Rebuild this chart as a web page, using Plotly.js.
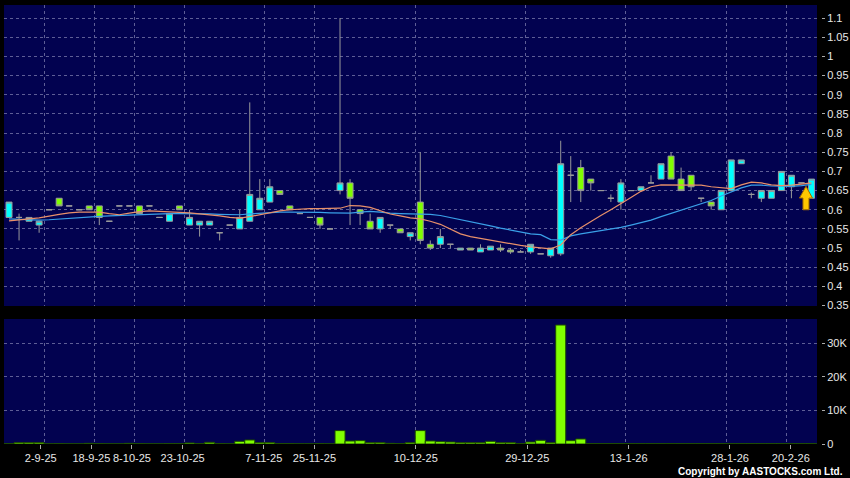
<!DOCTYPE html>
<html><head><meta charset="utf-8">
<script src="https://cdn.plot.ly/plotly-3.0.1.min.js"></script>
<style>html,body{margin:0;padding:0;background:#000;}#chart{width:850px;height:478px;}</style>
</head><body><div id="chart"></div>
<script>
const dates = ['2025-08-27','2025-08-28','2025-08-29','2025-09-02','2025-09-04','2025-09-08','2025-09-10','2025-09-15','2025-09-18','2025-09-23',
'2025-09-26','2025-10-03','2025-10-08','2025-10-10','2025-10-14','2025-10-16','2025-10-20','2025-10-23','2025-10-24','2025-10-27',
'2025-10-28','2025-10-30','2025-10-31','2025-11-03','2025-11-05','2025-11-07','2025-11-10','2025-11-12','2025-11-17','2025-11-20',
'2025-11-25','2025-11-26','2025-11-27','2025-11-28','2025-12-01','2025-12-02','2025-12-03','2025-12-04','2025-12-05','2025-12-08',
'2025-12-10','2025-12-11','2025-12-12','2025-12-15','2025-12-16','2025-12-17','2025-12-18','2025-12-19','2025-12-22','2025-12-23',
'2025-12-24','2025-12-29','2025-12-30','2025-12-31','2026-01-02','2026-01-05','2026-01-06','2026-01-07','2026-01-08','2026-01-09',
'2026-01-12','2026-01-13','2026-01-14','2026-01-15','2026-01-16','2026-01-19','2026-01-20','2026-01-21','2026-01-22','2026-01-23',
'2026-01-26','2026-01-28','2026-01-30','2026-02-02','2026-02-05','2026-02-10','2026-02-13','2026-02-20','2026-02-23','2026-02-24',
'2026-02-25'];
const open  = [0.58,0.58,0.57,0.56,0.60,0.63,0.61,0.60,0.61,0.61, 0.57,0.61,0.61,0.61,0.61,0.58,0.57,0.61,0.56,0.56,
0.56,0.54,0.56,0.55,0.57,0.60,0.62,0.65,0.61,0.59, 0.58,0.58,0.55,0.65,0.67,0.60,0.57,0.55,0.56,0.55,
0.53,0.62,0.51,0.51,0.51,0.495,0.50,0.49,0.495,0.50, 0.495,0.49,0.49,0.485,0.48,0.485,0.69,0.71,0.68,0.65,
0.63,0.62,0.65,0.65,0.67,0.68,0.74,0.68,0.69,0.63, 0.62,0.60,0.65,0.72,0.64,0.63,0.63,0.65,0.66,0.67, 0.63];
const high  = [0.62,0.59,0.58,0.57,0.60,0.63,0.61,0.60,0.61,0.61, 0.57,0.61,0.61,0.61,0.61,0.58,0.59,0.61,0.60,0.57,
0.57,0.54,0.56,0.60,0.88,0.68,0.68,0.65,0.61,0.59, 0.58,0.58,0.55,1.10,0.68,0.60,0.59,0.58,0.56,0.55,
0.54,0.75,0.52,0.55,0.51,0.50,0.50,0.51,0.505,0.51, 0.50,0.495,0.51,0.485,0.50,0.78,0.74,0.73,0.68,0.65,
0.64,0.68,0.65,0.66,0.69,0.72,0.75,0.71,0.69,0.63, 0.62,0.65,0.73,0.73,0.645,0.65,0.65,0.70,0.69,0.67, 0.68];
const low   = [0.58,0.52,0.57,0.54,0.60,0.61,0.61,0.60,0.60,0.56, 0.57,0.61,0.61,0.59,0.61,0.58,0.57,0.60,0.56,0.53,
0.56,0.52,0.56,0.55,0.57,0.60,0.62,0.64,0.60,0.59, 0.58,0.55,0.55,0.64,0.56,0.56,0.55,0.54,0.55,0.54,
0.52,0.51,0.495,0.50,0.50,0.495,0.495,0.49,0.495,0.49, 0.485,0.49,0.485,0.485,0.475,0.48,0.62,0.62,0.65,0.65,
0.62,0.60,0.65,0.65,0.67,0.68,0.68,0.65,0.65,0.62, 0.60,0.60,0.65,0.72,0.63,0.62,0.63,0.65,0.63,0.67, 0.63];
const close = [0.62,0.58,0.58,0.57,0.60,0.61,0.61,0.60,0.60,0.58, 0.57,0.61,0.61,0.59,0.61,0.58,0.59,0.60,0.58,0.57,
0.57,0.54,0.56,0.58,0.64,0.63,0.66,0.64,0.60,0.59, 0.58,0.56,0.55,0.67,0.63,0.59,0.55,0.58,0.56,0.54,
0.54,0.52,0.50,0.53,0.51,0.50,0.495,0.50,0.505,0.495, 0.49,0.49,0.51,0.485,0.50,0.72,0.69,0.65,0.67,0.65,
0.63,0.67,0.65,0.66,0.67,0.72,0.68,0.65,0.66,0.63, 0.61,0.65,0.73,0.73,0.64,0.65,0.65,0.70,0.69,0.67, 0.68];
const ma10 = [0.571,0.573,0.576,0.579,0.584,0.588,0.592,0.594,0.594,0.594, 0.590,0.587,0.591,0.595,0.597,0.596,0.595,0.594,0.592,0.589,
0.587,0.584,0.580,0.578,0.582,0.587,0.592,0.597,0.600,0.602, 0.603,0.603,0.603,0.604,0.611,0.610,0.606,0.597,0.589,0.584,
0.579,0.576,0.570,0.562,0.550,0.537,0.530,0.525,0.520,0.515, 0.511,0.507,0.503,0.500,0.498,0.508,0.535,0.553,0.570,0.585,
0.600,0.617,0.632,0.648,0.660,0.665,0.665,0.665,0.665,0.664, 0.660,0.657,0.655,0.665,0.672,0.670,0.665,0.663,0.664,0.667, 0.670];
const ma20 = [0.576,0.575,0.574,0.573,0.574,0.576,0.578,0.580,0.581,0.583, 0.584,0.585,0.586,0.587,0.589,0.589,0.590,0.590,0.590,0.589,
0.589,0.588,0.587,0.587,0.589,0.591,0.593,0.594,0.594,0.594, 0.594,0.593,0.592,0.591,0.591,0.594,0.596,0.594,0.591,0.590,
0.589,0.589,0.588,0.585,0.580,0.575,0.570,0.565,0.558,0.552, 0.547,0.541,0.537,0.535,0.522,0.521,0.532,0.537,0.541,0.546,
0.550,0.554,0.560,0.566,0.573,0.582,0.590,0.598,0.608,0.616, 0.624,0.636,0.646,0.657,0.664,0.664,0.662,0.661,0.661,0.663, 0.666];
const volume = [100,400,400,400,50,100,50,50,200,100, 50,50,200,100,50,50,100,100,300,100,
500,100,50,800,1200,400,400,100,100,50, 50,100,50,4000,900,1000,400,400,200,100,
400,4000,900,700,600,400,400,400,800,400, 400,100,600,1100,400,35500,1000,1500,100,100,
100,100,100,100,100,100,150,100,100,100, 100,100,100,100,100,100,100,100,100,100, 100];
const tickDates = ['2025-09-02','2025-09-18','2025-10-08','2025-10-23','2025-11-07','2025-11-25','2025-12-10','2025-12-29','2026-01-13','2026-01-28','2026-02-20'];
const priceTicks = [0.35,0.4,0.45,0.5,0.55,0.6,0.65,0.7,0.75,0.8,0.85,0.9,0.95,1,1.05,1.1];
const volTicks = [0,10000,20000,30000];
const volTickText = ['0','10K','20K','30K'];
const arrowMark = {tip:0.661, neck:0.6305, base:0.60};

const idx = dates.map((d,i)=>i);
const tickIdx = tickDates.map(d=>dates.indexOf(d));
const gridPos = tickIdx.map(i=>i+0.5);
const labelPos = tickIdx.map(i=>i+0.16+(i-3)*0.0105);
const fmtDate = d => { const p=d.split('-'); return (+p[2])+'-'+(+p[1])+'-'+p[0].slice(2); };
const labelText = tickDates.map(fmtDate);

const BG='#020250', GRID='#5e5e96', TXT='#e8e8e8', FONT='Liberation Sans, Arial, sans-serif';
const xr=[-0.5, 80.55];
const gridAxis = {range:xr, showgrid:true, gridcolor:GRID, griddash:'3px,3px', gridwidth:1, zeroline:false,
  showline:false, tickmode:'array', tickvals:gridPos, showticklabels:false, ticks:''};

const traces = [
 {type:'candlestick', x:idx, open:open, high:high, low:low, close:close, xaxis:'x', yaxis:'y',
  increasing:{fillcolor:'#00ffff', line:{color:'#9a9a9a', width:1}},
  decreasing:{fillcolor:'#80ff00', line:{color:'#9a9a9a', width:1}},
  whiskerwidth:0, showlegend:false, hoverinfo:'skip'},
 {type:'scatter', mode:'lines', x:idx, y:ma20, xaxis:'x', yaxis:'y', line:{color:'#3aa0e8', width:1.2}, showlegend:false, hoverinfo:'skip'},
 {type:'scatter', mode:'lines', x:idx, y:ma10, xaxis:'x', yaxis:'y', line:{color:'#e8906a', width:1.2}, showlegend:false, hoverinfo:'skip'},
 {type:'bar', x:idx, y:volume, xaxis:'x2', yaxis:'y2', marker:{color:'#80ff00', line:{color:'#1c4a00', width:1}}, showlegend:false, hoverinfo:'skip'},
 {type:'scatter', mode:'markers', x:[null], y:[null], xaxis:'x3', yaxis:'y2', showlegend:false, hoverinfo:'skip'}
];

const last = idx[idx.length-1];
const cx = last-0.55, hw=0.65, sw=0.3;
const arrowPath = `M ${cx},${arrowMark.tip} L ${cx+hw},${arrowMark.neck} L ${cx+sw},${arrowMark.neck} L ${cx+sw},${arrowMark.base} L ${cx-sw},${arrowMark.base} L ${cx-sw},${arrowMark.neck} L ${cx-hw},${arrowMark.neck} Z`;

const L=4, R=821, T=5, B=444;
const dom=[0,(817-L)/(R-L)];
const layout = {
 width:850, height:478, paper_bgcolor:'#000000', plot_bgcolor:BG,
 margin:{l:L, r:850-R, t:T, b:478-B, pad:0},
 font:{family:FONT, size:11, color:TXT},
 showlegend:false, bargap:0, dragmode:false,
 boxgap:0.15,
 xaxis: Object.assign({}, gridAxis, {domain:dom, anchor:'y', rangeslider:{visible:false}}),
 xaxis2: Object.assign({}, gridAxis, {domain:dom, anchor:'y2'}),
 xaxis3: {domain:dom, anchor:'y2', overlaying:'x2', range:xr, showgrid:false, zeroline:false, showline:false,
   tickmode:'array', tickvals:labelPos, ticktext:labelText, ticks:'outside', ticklen:4, tickcolor:'#aaaaaa', tickangle:0,
   tickfont:{family:FONT, size:11, color:TXT}},
 yaxis: {domain:[(B-306)/(B-T),1], anchor:'free', position:1, side:'right', range:[0.349,1.134],
   tickmode:'array', tickvals:priceTicks, ticktext:priceTicks.map(v=>String(+v.toFixed(2))),
   showgrid:true, gridcolor:GRID, griddash:'3px,3px', zeroline:false, showline:false,
   ticks:'outside', ticklen:3, tickcolor:'#aaaaaa', tickfont:{family:FONT, size:11, color:TXT}},
 yaxis2: {domain:[0,(B-319)/(B-T)], anchor:'free', position:1, side:'right', range:[0,37300],
   tickmode:'array', tickvals:volTicks, ticktext:volTickText,
   showgrid:true, gridcolor:GRID, griddash:'3px,3px', zeroline:false, showline:false,
   ticks:'outside', ticklen:3, tickcolor:'#aaaaaa', tickfont:{family:FONT, size:11, color:TXT}},
 shapes:[{type:'path', xref:'x', yref:'y', path:arrowPath, fillcolor:'#ffc800', line:{color:'#a06a00', width:1}, layer:'above'}],
 annotations:[{text:'<b>Copyright by AASTOCKS.com Ltd.</b>', xref:'paper', yref:'paper', x:(845-L)/(R-L), y:(B-471)/(B-T),
   xanchor:'right', yanchor:'middle', showarrow:false, font:{family:FONT, size:10, color:'#ffffff'}}]
};
Plotly.newPlot('chart', traces, layout, {displayModeBar:false, staticPlot:true});
</script></body></html>
